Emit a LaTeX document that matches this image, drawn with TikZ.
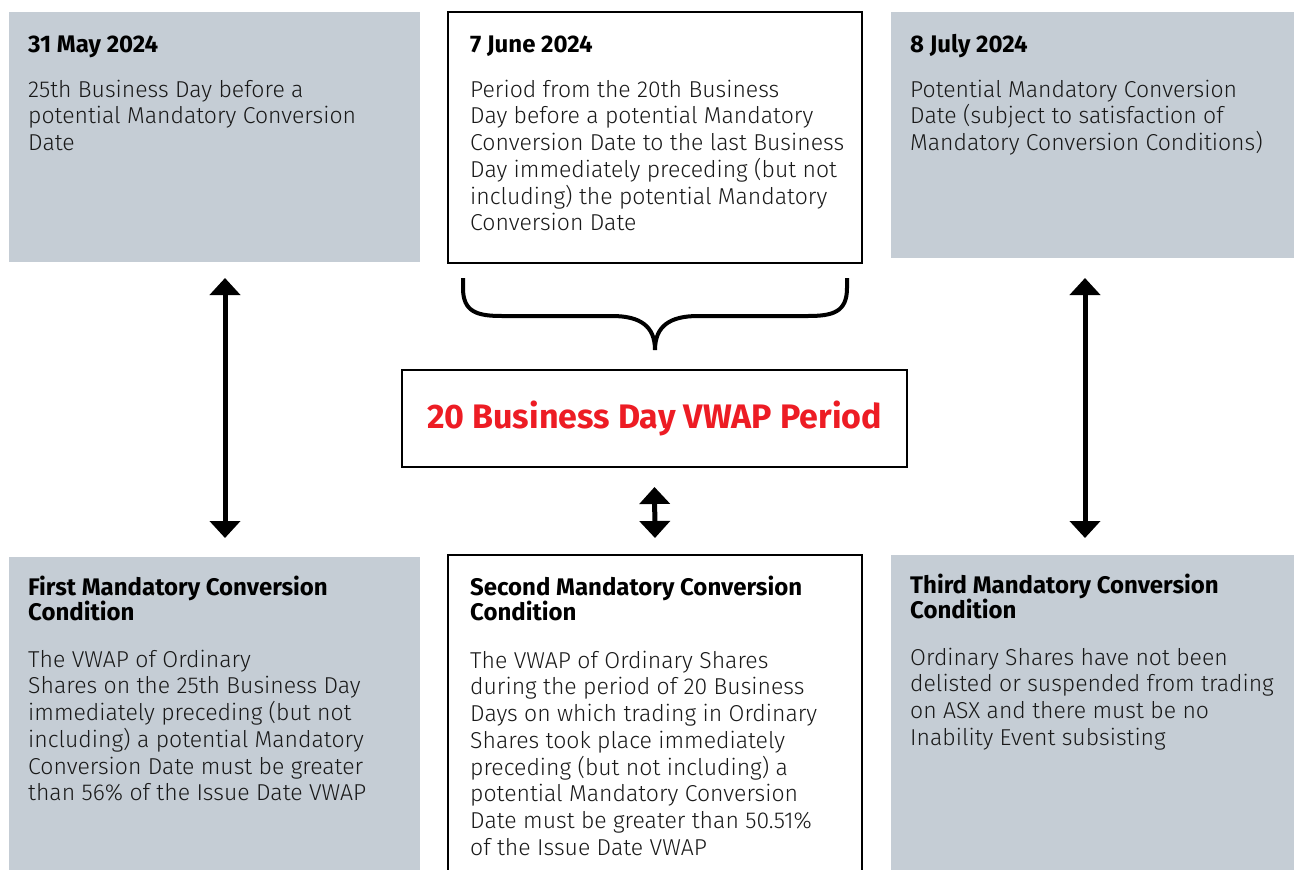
\documentclass[tikz,border=0pt]{standalone}
\usepackage{fontspec}
\setmainfont{Fira Sans}[UprightFont=* Light, BoldFont=* Bold]
\usetikzlibrary{arrows.meta}
\definecolor{boxgray}{RGB}{197,205,213}
\definecolor{vred}{RGB}{237,28,36}
\definecolor{txt}{RGB}{25,25,25}
\newcommand{\topline}{\rule{0pt}{20pt}}
\begin{document}
\begin{tikzpicture}[x=1pt,y=-1pt,
  graybox/.style={fill=boxgray, draw=none, anchor=north west, inner sep=0pt, outer sep=0pt},
  whitebox/.style={fill=white, draw=black, line width=2pt, anchor=north west, inner sep=0pt, outer sep=0pt},
  ttl/.style={anchor=north west, inner sep=0pt, text=black, font=\bfseries\fontsize{24}{25}\selectfont, align=left},
  body/.style={anchor=north west, inner sep=0pt, text=txt, font=\fontsize{23}{26.7}\selectfont, align=left},
  dblarrow/.style={line width=5pt, {Triangle[width=30pt,length=17pt]}-{Triangle[width=30pt,length=17pt]}}]
\useasboundingbox (0,0) rectangle (1294,870);
\clip (0,0) rectangle (1294,870);
% boxes
\node[graybox, minimum width=411pt, minimum height=250pt] (tl) at (9,12) {};
\node[whitebox, minimum width=414pt, minimum height=251pt] (tm) at (448,12) {};
\node[graybox, minimum width=403pt, minimum height=246pt] (tr) at (891,12) {};
\node[whitebox, line width=2.5pt, minimum width=505pt, minimum height=97pt] (ctr) at (402,370) {};
\node[graybox, minimum width=411pt, minimum height=320pt] (bl) at (9,557) {};
\node[whitebox, minimum width=414pt, minimum height=340pt] (bm) at (448,555) {};
\node[graybox, minimum width=403pt, minimum height=320pt] (br) at (891,555) {};
% texts (each node top = first baseline - 20pt)
\node[ttl] (t1) at (28,32) {\topline 31 May 2024};
\node[body] (b1) at (28,77) {\topline 25th Business Day before a\\potential Mandatory Conversion\\Date};
\node[ttl] (t2) at (470,32) {\topline 7 June 2024};
\node[body] (b2) at (470,77) {\topline Period from the 20th Business\\Day before a potential Mandatory\\Conversion Date to the last Business\\Day immediately preceding (but not\\including) the potential Mandatory\\Conversion Date};
\node[ttl] (t3) at (910,32) {\topline 8 July 2024};
\node[body] (b3) at (910,77) {\topline Potential Mandatory Conversion\\Date (subject to satisfaction of\\Mandatory Conversion Conditions)};
\node[ttl] (t4) at (28,575) {\topline First Mandatory Conversion\\Condition};
\node[body] (b4) at (28,647) {\topline The VWAP of Ordinary\\Shares on the 25th Business Day\\immediately preceding (but not\\including) a potential Mandatory\\Conversion Date must be greater\\than 56\% of the Issue Date VWAP};
\node[ttl] (t5) at (470,575) {\topline Second Mandatory Conversion\\Condition};
\node[body] (b5) at (470,648) {\topline The VWAP of Ordinary Shares\\during the period of 20 Business\\Days on which trading in Ordinary\\Shares took place immediately\\preceding (but not including) a\\potential Mandatory Conversion\\Date must be greater than 50.51\%\\of the Issue Date VWAP};
\node[ttl] (t6) at (910,573) {\topline Third Mandatory Conversion\\Condition};
\node[body] (b6) at (910,645) {\topline Ordinary Shares have not been\\delisted or suspended from trading\\on ASX and there must be no\\Inability Event subsisting};
\node[inner sep=0pt, text=vred, font=\bfseries\fontsize{34}{40}\selectfont] (lbl) at (ctr.center) {20 Business Day VWAP Period};
% arrows
\draw[dblarrow] ([xshift=10.5pt,yshift=-16pt]tl.south) -- ([xshift=10.5pt,yshift=19pt]bl.north);
\draw[dblarrow] ([xshift=-7.5pt,yshift=-20pt]tr.south) -- ([xshift=-7.5pt,yshift=17pt]br.north);
\draw[dblarrow] ([yshift=-20pt]ctr.south) -- ([yshift=17pt]bm.north);
% brace
\coordinate (bL) at (463,278);
\coordinate (bR) at (847,278);
\coordinate (bT) at (655,350);
\draw[line width=4pt, line cap=butt, line join=round] (bL) -- (463,288) .. controls (463,312) and (477,316) .. (502,316) -- (612,316) .. controls (640,316) and (655,326) .. (bT);
\draw[line width=4pt, line cap=butt, line join=round] (bR) -- (847,288) .. controls (847,312) and (833,316) .. (808,316) -- (698,316) .. controls (670,316) and (655,326) .. (bT);
\end{tikzpicture}
\end{document}
